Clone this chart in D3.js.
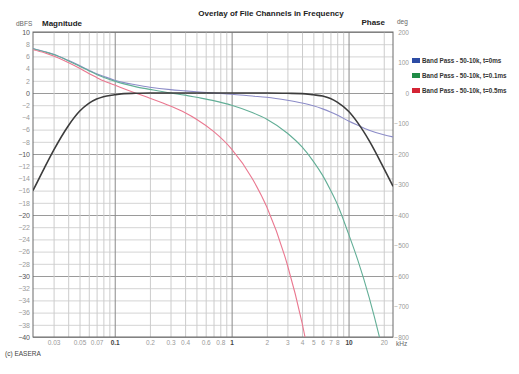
<!DOCTYPE html>
<html>
<head>
<meta charset="utf-8">
<script src="https://cdn.jsdelivr.net/npm/d3@7"></script>
<style>
  body { margin: 0; background: #fff; }
  svg { display: block; font-family: "Liberation Sans", Arial, sans-serif; }
</style>
</head>
<body>
<div id="chart"></div>
<script>
// frequency points in kHz
const FREQ = [0.02, 0.025, 0.03, 0.04, 0.05, 0.06, 0.07, 0.08, 0.1, 0.12, 0.15, 0.2, 0.3, 0.4, 0.5, 0.7,
              1, 1.5, 2, 3, 4, 5, 6, 7, 8, 10, 12, 15, 20, 24];

// magnitude (dBFS), identical for the three channels
const MAG = [-16.0, -12.3, -9.4, -5.4, -3.0, -1.7, -1.0, -0.6, -0.3, -0.1, -0.05, 0, 0, 0, 0, 0,
             0, 0, 0, -0.05, -0.1, -0.3, -0.5, -0.9, -1.5, -3.0, -4.9, -7.8, -12.3, -15.3];

// phase (deg)
const PHASE_0MS = [146, 136, 127, 107, 90, 75, 63, 55, 42, 34, 27, 19, 11, 7, 4, 0,
                   -4, -10, -14, -24, -33, -42, -52, -62, -72, -92, -106, -122, -137, -144];
const PHASE_01MS = [145, 135, 126, 106, 88, 73, 61, 52, 39, 30, 21, 12, 0, -7, -14, -25,
                    -40, -64, -86, -132, -177, -224, -270, -318, -364, -462, -548, -670, -860, -1000];
const PHASE_05MS = [142, 132, 121, 100, 81, 64, 51, 40, 26, 14, 0, -17, -43, -65, -86, -126,
                    -184, -280, -374, -564, -753, -942, -1100, -1300, -1500, -1900, -2300, -2800, -3700, -4400];

const SERIES = [
  { name: "Band Pass - 50-10k, t=0ms", phase: PHASE_0MS, line: "#8c8cc8", key: "#2c4ca4" },
  { name: "Band Pass - 50-10k, t=0.1ms", phase: PHASE_01MS, line: "#62ae96", key: "#1f8c46" },
  { name: "Band Pass - 50-10k, t=0.5ms", phase: PHASE_05MS, line: "#ea7890", key: "#d42434" }
];

const X_GRID = [0.03, 0.04, 0.05, 0.06, 0.07, 0.08, 0.09, 0.1, 0.2, 0.3, 0.4, 0.5, 0.6, 0.7, 0.8, 0.9,
                1, 2, 3, 4, 5, 6, 7, 8, 9, 10, 20];
const X_LABELS = [0.03, 0.05, 0.07, 0.1, 0.2, 0.3, 0.4, 0.6, 0.8, 1, 2, 3, 4, 5, 6, 7, 8, 10, 20];
const X_MAJOR = [0.1, 1, 10];
const DB_TICKS = d3.range(-40, 11, 2);
const DEG_TICKS = d3.range(-800, 201, 100);

const W = 519, H = 374;
const box = { left: 33, right: 393, top: 32, bottom: 337 };

const svg = d3.select("#chart").append("svg")
  .attr("width", W).attr("height", H);

const x = d3.scaleLog().domain([0.02, 24]).range([box.left, box.right]);
const y = d3.scaleLinear().domain([-40, 10]).range([box.bottom, box.top]);
const yPh = d3.scaleLinear().domain([-800, 200]).range([box.bottom, box.top]);

// horizontal grid
svg.append("g")
  .attr("transform", `translate(${box.left},0)`)
  .call(d3.axisLeft(y).tickValues(DB_TICKS).tickSize(-(box.right - box.left)).tickFormat(""))
  .call(g => g.select(".domain").remove())
  .call(g => g.selectAll("line")
    .attr("stroke", d => d % 10 === 0 ? "#9a9a9a" : "#d4d4d4")
    .attr("stroke-width", 1));

// vertical grid
svg.append("g")
  .attr("transform", `translate(0,${box.bottom})`)
  .call(d3.axisBottom(x).tickValues(X_GRID).tickSize(-(box.bottom - box.top)).tickFormat(""))
  .call(g => g.select(".domain").remove())
  .call(g => g.selectAll("line")
    .attr("stroke", d => X_MAJOR.includes(d) ? "#8a8a8a" : "#cccccc")
    .attr("stroke-width", 1));

// frame
svg.append("rect")
  .attr("x", box.left).attr("y", box.top)
  .attr("width", box.right - box.left).attr("height", box.bottom - box.top)
  .attr("fill", "none").attr("stroke", "#6a6a6a").attr("stroke-width", 1);

// left dB labels
svg.append("g")
  .attr("transform", `translate(${box.left - 2},0)`)
  .call(d3.axisLeft(y).tickValues(DB_TICKS).tickSize(0).tickPadding(1))
  .call(g => g.select(".domain").remove())
  .call(g => g.selectAll("text")
    .style("font-size", "7px")
    .attr("fill", d => d % 10 === 0 ? "#555" : "#9a9a9a"));

// right phase labels
svg.append("g")
  .attr("transform", `translate(${box.right + 16},0)`)
  .call(d3.axisLeft(yPh).tickValues(DEG_TICKS).tickSize(0).tickPadding(0))
  .call(g => g.select(".domain").remove())
  .call(g => g.selectAll("text")
    .style("font-size", "6.5px")
    .attr("fill", "#9a9a9a"));

// frequency labels
svg.append("g")
  .attr("transform", `translate(0,${box.bottom + 2})`)
  .call(d3.axisBottom(x).tickValues(X_LABELS).tickSize(0).tickPadding(1)
    .tickFormat(d => String(d)))
  .call(g => g.select(".domain").remove())
  .call(g => g.selectAll("text")
    .style("font-size", "6.5px")
    .style("font-weight", d => X_MAJOR.includes(d) ? "bold" : "normal")
    .attr("fill", d => X_MAJOR.includes(d) ? "#444" : "#9a9a9a"));

svg.append("clipPath").attr("id", "plot")
  .append("rect")
  .attr("x", box.left).attr("y", box.top)
  .attr("width", box.right - box.left).attr("height", box.bottom - box.top);

const plot = svg.append("g").attr("clip-path", "url(#plot)");

// phase curves
const phLine = d3.line()
  .x((d, i) => x(FREQ[i]))
  .y(d => yPh(d))
  .curve(d3.curveMonotoneX);

SERIES.forEach(s => {
  plot.append("path")
    .datum(s.phase)
    .attr("fill", "none")
    .attr("stroke", s.line)
    .attr("stroke-width", 1.1)
    .attr("d", phLine);
});

// magnitude (all channels overlap)
const magLine = d3.line()
  .x((d, i) => x(FREQ[i]))
  .y(d => y(d))
  .curve(d3.curveMonotoneX);

plot.append("path")
  .datum(MAG)
  .attr("fill", "none")
  .attr("stroke", "#3c3c3c")
  .attr("stroke-width", 1.6)
  .attr("d", magLine);

// titles
svg.append("text")
  .attr("x", 271).attr("y", 16)
  .attr("text-anchor", "middle")
  .style("font-size", "8px").style("font-weight", "bold")
  .attr("fill", "#222")
  .text("Overlay of File Channels in Frequency");

svg.append("text")
  .attr("x", 16).attr("y", 26)
  .style("font-size", "6.5px").attr("fill", "#666")
  .text("dBFS");

svg.append("text")
  .attr("x", 42).attr("y", 26)
  .style("font-size", "8px").style("font-weight", "bold")
  .attr("fill", "#222")
  .text("Magnitude");

svg.append("text")
  .attr("x", 385).attr("y", 25)
  .attr("text-anchor", "end")
  .style("font-size", "8px").style("font-weight", "bold")
  .attr("fill", "#222")
  .text("Phase");

svg.append("text")
  .attr("x", 397).attr("y", 24)
  .style("font-size", "6.5px").attr("fill", "#666")
  .text("deg");

svg.append("text")
  .attr("x", 396).attr("y", 346)
  .style("font-size", "6.5px").attr("fill", "#666")
  .text("kHz");

svg.append("text")
  .attr("x", 5).attr("y", 356)
  .style("font-size", "6.5px").attr("fill", "#444")
  .text("(c) EASERA");

// legend
const legend = svg.append("g").attr("transform", "translate(412,62)");
SERIES.forEach((s, i) => {
  const g = legend.append("g").attr("transform", `translate(0,${i * 15})`);
  g.append("rect")
    .attr("x", 0).attr("y", -4)
    .attr("width", 8).attr("height", 5)
    .attr("fill", s.key);
  g.append("text")
    .attr("x", 10).attr("y", 1)
    .style("font-size", "6.3px").style("font-weight", "bold")
    .attr("fill", "#333")
    .text(s.name);
});
</script>
</body>
</html>
